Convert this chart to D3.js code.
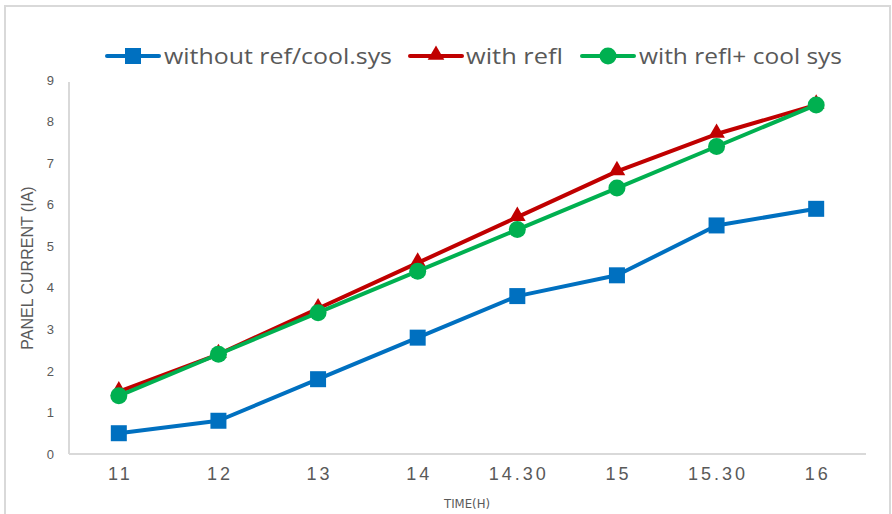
<!DOCTYPE html>
<html>
<head>
<meta charset="utf-8">
<script src="https://cdn.jsdelivr.net/npm/d3@7"></script>
<style>
  html, body { margin: 0; padding: 0; background: #fff; }
  svg { display: block; }
</style>
</head>
<body>
<svg id="chart" width="892" height="514"></svg>
<script>
// Time of day (hours) and panel current readings for each setup
const hours = ["11", "12", "13", "14", "14.30", "15", "15.30", "16"];
const withoutReflCool = [0.5, 0.8, 1.8, 2.8, 3.8, 4.3, 5.5, 5.9];
const withRefl = [1.5, 2.4, 3.5, 4.6, 5.7, 6.8, 7.7, 8.4];
const withReflCool = [1.4, 2.4, 3.4, 4.4, 5.4, 6.4, 7.4, 8.4];
const yTicks = [0, 1, 2, 3, 4, 5, 6, 7, 8, 9];

const seriesNames = ["without ref/cool.sys", "with refl", "with refl+ cool sys"];
const seriesColors = ["#0070C0", "#C00000", "#00B050"];
const seriesMarkers = ["square", "triangle", "circle"];
const seriesValues = [withoutReflCool, withRefl, withReflCool];

const svg = d3.select("#chart");
const textColor = "#595959";
const gridColor = "#D9D9D9";
const narrow = "'Liberation Sans Narrow', 'DejaVu Sans Condensed', 'Arial Narrow', sans-serif";

// Chart frame
svg.append("rect")
  .attr("x", 5).attr("y", 6)
  .attr("width", 885).attr("height", 520)
  .attr("fill", "none")
  .attr("stroke", gridColor)
  .attr("stroke-width", 2);

const plot = { left: 69, right: 866, top: 80, bottom: 454 };

const x = d3.scaleBand().domain(hours).range([plot.left, plot.right]);
const y = d3.scaleLinear().domain([0, 9]).range([plot.bottom, plot.top]);

// Axis lines
svg.append("line")
  .attr("x1", plot.left).attr("x2", plot.right)
  .attr("y1", plot.bottom).attr("y2", plot.bottom)
  .attr("stroke", gridColor).attr("stroke-width", 2);
svg.append("line")
  .attr("x1", plot.left).attr("x2", plot.left)
  .attr("y1", plot.bottom).attr("y2", y(9) + 2)
  .attr("stroke", gridColor).attr("stroke-width", 2);

// Y tick labels
const yAxis = d3.axisLeft(y).tickValues(yTicks).tickSize(0).tickPadding(15);
const gy = svg.append("g").attr("transform", `translate(${plot.left},0)`).call(yAxis);
gy.select(".domain").remove();
gy.selectAll("text")
  .attr("fill", textColor)
  .style("font-family", "'Liberation Sans', Arial, sans-serif")
  .style("font-size", "13px");

// X tick labels
const xAxis = d3.axisBottom(x).tickSize(0).tickPadding(20);
const gx = svg.append("g").attr("transform", `translate(0,${plot.bottom})`).call(xAxis);
gx.select(".domain").remove();
gx.selectAll("text")
  .attr("fill", textColor)
  .attr("dy", "0.32em")
  .attr("dx", "1.5px")
  .style("font-family", "'Liberation Sans', Arial, sans-serif")
  .style("font-size", "18px")
  .style("letter-spacing", "3px");

// Axis titles
svg.append("text")
  .attr("x", 467).attr("y", 508)
  .attr("text-anchor", "middle")
  .attr("fill", textColor)
  .style("font-family", narrow)
  .style("font-size", "13px")
  .text("TIME(H)");

svg.append("text")
  .attr("transform", "translate(33,268) rotate(-90)")
  .attr("text-anchor", "middle")
  .attr("fill", textColor)
  .style("font-family", "'Liberation Sans', Arial, sans-serif")
  .style("font-size", "16px")
  .text("PANEL CURRENT (IA)");

// Marker drawing helper
function drawMarker(g, kind, cx, cy, color) {
  if (kind === "square") {
    g.append("rect")
      .attr("x", cx - 8).attr("y", cy - 8)
      .attr("width", 16).attr("height", 16)
      .attr("fill", color);
  } else if (kind === "triangle") {
    g.append("path")
      .attr("d", d3.symbol().type(d3.symbolTriangle).size(120)())
      .attr("transform", `translate(${cx},${cy - 1})`)
      .attr("fill", color);
  } else {
    g.append("circle")
      .attr("cx", cx).attr("cy", cy).attr("r", 8.5)
      .attr("fill", color);
  }
}

const line = d3.line()
  .x((d, i) => x(hours[i]) + x.bandwidth() / 2)
  .y(d => y(d));

seriesValues.forEach((vals, s) => {
  const g = svg.append("g");
  g.append("path")
    .datum(vals)
    .attr("d", line)
    .attr("fill", "none")
    .attr("stroke", seriesColors[s])
    .attr("stroke-width", 4)
    .attr("stroke-linejoin", "round")
    .attr("stroke-linecap", "round");
  vals.forEach((v, i) => {
    drawMarker(g, seriesMarkers[s], x(hours[i]) + x.bandwidth() / 2, y(v), seriesColors[s]);
  });
});

// Legend
const legendItems = [
  { x0: 107, tx: 164, w: 228 },
  { x0: 410, tx: 466, w: 97 },
  { x0: 582, tx: 639, w: 203 }
];
const legendY = 56;
legendItems.forEach((it, s) => {
  const g = svg.append("g");
  g.append("line")
    .attr("x1", it.x0).attr("x2", it.x0 + 52)
    .attr("y1", legendY).attr("y2", legendY)
    .attr("stroke", seriesColors[s])
    .attr("stroke-width", 4)
    .attr("stroke-linecap", "round");
  drawMarker(g, seriesMarkers[s], it.x0 + 26, legendY, seriesColors[s]);
  g.append("text")
    .attr("x", it.tx).attr("y", legendY)
    .attr("dy", "0.35em")
    .attr("fill", textColor)
    .attr("textLength", it.w)
    .attr("lengthAdjust", "spacingAndGlyphs")
    .style("font-family", "'Open Sans', 'Liberation Sans', sans-serif")
    .style("font-size", "22px")
    .text(seriesNames[s]);
});
</script>
</body>
</html>
